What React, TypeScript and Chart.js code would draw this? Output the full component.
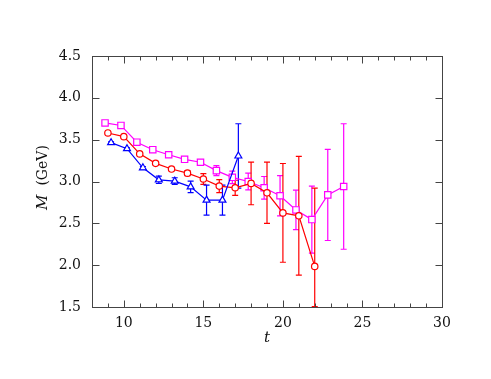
import React, { useEffect, useRef } from "react";
import { Chart, registerables } from "chart.js";
Chart.register(...registerables);

const xTickLabels = [10, 15, 20, 25, 30];
const yTickLabels = [1.5, 2.0, 2.5, 3.0, 3.5, 4.0, 4.5];

const magentaT = [8.82, 9.82, 10.82, 11.82, 12.82, 13.82, 14.82, 15.82, 16.82, 17.82, 18.82, 19.82, 20.82, 21.82, 22.82, 23.82];
const magentaM = [3.70, 3.67, 3.47, 3.38, 3.32, 3.265, 3.23, 3.13, 3.05, 3.00, 2.925, 2.83, 2.66, 2.545, 2.84, 2.94];
const magentaErr = [0.01, 0.01, 0.01, 0.01, 0.015, 0.02, 0.025, 0.06, 0.075, 0.1, 0.135, 0.24, 0.236, 0.40, 0.545, 0.75];

const redT = [9, 10, 11, 12, 13, 14, 15, 16, 17, 18, 19, 20, 21, 22];
const redM = [3.58, 3.536, 3.33, 3.217, 3.149, 3.10, 3.03, 2.945, 2.925, 2.977, 2.865, 2.625, 2.59, 1.985];
const redErr = [0.01, 0.01, 0.01, 0.015, 0.02, 0.03, 0.064, 0.078, 0.09, 0.255, 0.366, 0.59, 0.71, 0.935];

const blueT = [9.2, 10.2, 11.2, 12.2, 13.2, 14.2, 15.2, 16.2, 17.2];
const blueM = [3.464, 3.392, 3.164, 3.02, 3.005, 2.936, 2.777, 2.777, 3.305];
const blueErr = [0.01, 0.01, 0.015, 0.044, 0.04, 0.068, 0.18, 0.18, 0.385];

const FONT = '"DejaVu Serif", serif';

export default function App() {
  const ref = useRef<HTMLCanvasElement>(null);
  useEffect(() => {
    const canvas = ref.current;
    if (!canvas) return;
    const mk = (ts: number[], ms: number[]) => ts.map((t, i) => ({ x: t, y: ms[i] }));
    const series = [
      { t: magentaT, m: magentaM, e: magentaErr, color: "#ff00ff" },
      { t: redT, m: redM, e: redErr, color: "#ff0000" },
      { t: blueT, m: blueM, e: blueErr, color: "#0000ff" },
    ];

    const errPlugin = {
      id: "errbars",
      beforeDatasetsDraw(chart: any) {
        const { ctx, chartArea: a } = chart;
        const xs = chart.scales.x, ys = chart.scales.y;
        ctx.save();
        ctx.beginPath();
        ctx.rect(a.left, a.top, a.right - a.left, a.bottom - a.top);
        ctx.clip();
        ctx.lineWidth = 1.2;
        for (const s of series) {
          s.t.forEach((t, i) => {
            const px = xs.getPixelForValue(t);
            let top = ys.getPixelForValue(s.m[i] + s.e[i]);
            let bot = ys.getPixelForValue(s.m[i] - s.e[i]);
            bot = Math.min(bot, a.bottom - 0.5);
            top = Math.max(top, a.top);
            ctx.strokeStyle = s.color;
            ctx.beginPath();
            ctx.moveTo(px, top);
            ctx.lineTo(px, bot);
            ctx.moveTo(px - 3, top);
            ctx.lineTo(px + 3, top);
            ctx.moveTo(px - 3, bot);
            ctx.lineTo(px + 3, bot);
            ctx.stroke();
          });
        }
        ctx.restore();
      },
    };

    const framePlugin = {
      id: "frame",
      afterDraw(chart: any) {
        const { ctx, chartArea: a } = chart;
        const xs = chart.scales.x, ys = chart.scales.y;
        ctx.save();
        ctx.strokeStyle = "#444";
        ctx.lineWidth = 1;
        const L = Math.round(a.left) + 0.5, R = Math.round(a.right) + 0.5;
        const T = Math.round(a.top) + 0.5, B = Math.round(a.bottom) + 0.5;
        ctx.strokeRect(L, T, R - L, B - T);
        ctx.beginPath();
        for (let v = 9; v < 30; v++) {
          const px = Math.round(xs.getPixelForValue(v)) + 0.5;
          const len = v % 5 === 0 ? 7 : 4;
          ctx.moveTo(px, B); ctx.lineTo(px, B - len);
          ctx.moveTo(px, T); ctx.lineTo(px, T + len);
        }
        for (const v of yTickLabels) {
          const py = Math.round(ys.getPixelForValue(v)) + 0.5;
          ctx.moveTo(L, py); ctx.lineTo(L + 7, py);
          ctx.moveTo(R, py); ctx.lineTo(R - 7, py);
        }
        ctx.stroke();

        ctx.fillStyle = "#111";
        ctx.font = `14px ${FONT}`;
        ctx.textAlign = "center";
        ctx.textBaseline = "middle";
        for (const v of xTickLabels) {
          ctx.fillText(String(v), xs.getPixelForValue(v), B + 16);
        }
        ctx.textAlign = "right";
        for (const v of yTickLabels) {
          ctx.fillText(v.toFixed(1), a.left - 11, ys.getPixelForValue(v));
        }
        ctx.font = `italic 15px ${FONT}`;
        ctx.textAlign = "center";
        ctx.fillText("t", (a.left + a.right) / 2, B + 31);
        ctx.save();
        ctx.translate(43, (a.top + a.bottom) / 2 - 4);
        ctx.rotate(-Math.PI / 2);
        ctx.textAlign = "left";
        ctx.font = `italic 15px ${FONT}`;
        const w1 = ctx.measureText("M").width;
        ctx.font = `14px ${FONT}`;
        const rest = "  (GeV)";
        const w2 = ctx.measureText(rest).width;
        const start = -(w1 + w2) / 2;
        ctx.font = `italic 15px ${FONT}`;
        ctx.fillText("M", start, 0);
        ctx.font = `14px ${FONT}`;
        ctx.fillText(rest, start + w1, 0);
        ctx.restore();
        ctx.restore();
      },
    };

    const chart = new Chart(canvas, {
      type: "scatter",
      data: {
        datasets: [
          {
            data: mk(blueT, blueM),
            showLine: true,
            borderColor: "#0000ff",
            backgroundColor: "#ffffff",
            borderWidth: 1.2,
            pointStyle: "triangle",
            pointRadius: 4,
            pointBorderWidth: 1.2,
            order: 0,
          },
          {
            data: mk(redT, redM),
            showLine: true,
            borderColor: "#ff0000",
            backgroundColor: "#ffffff",
            borderWidth: 1.2,
            pointStyle: "circle",
            pointRadius: 3.2,
            pointBorderWidth: 1.2,
            order: 1,
          },
          {
            data: mk(magentaT, magentaM),
            showLine: true,
            borderColor: "#ff00ff",
            backgroundColor: "#ffffff",
            borderWidth: 1.2,
            pointStyle: "rect",
            pointRadius: 4.5,
            pointBorderWidth: 1.2,
            order: 2,
          },
        ],
      },
      options: {
        responsive: false,
        animation: false,
        layout: { padding: { left: 0, right: 49, top: 56, bottom: 0 } },
        plugins: { legend: { display: false }, tooltip: { enabled: false } },
        scales: {
          x: {
            type: "linear",
            min: 8,
            max: 30,
            grid: { display: false },
            border: { display: false },
            ticks: { display: false },
            afterFit(s: any) { s.height = 72; },
          },
          y: {
            type: "linear",
            min: 1.5,
            max: 4.5,
            grid: { display: false },
            border: { display: false },
            ticks: { display: false },
            afterFit(s: any) { s.width = 92; },
          },
        },
      },
      plugins: [errPlugin, framePlugin],
    } as any);
    return () => chart.destroy();
  }, []);

  return (
    <div style={{ position: "fixed", left: 0, top: 0, width: 491, height: 379, background: "#fff" }}>
      <canvas ref={ref} width={491} height={379} style={{ width: 491, height: 379, display: "block" }} />
    </div>
  );
}
